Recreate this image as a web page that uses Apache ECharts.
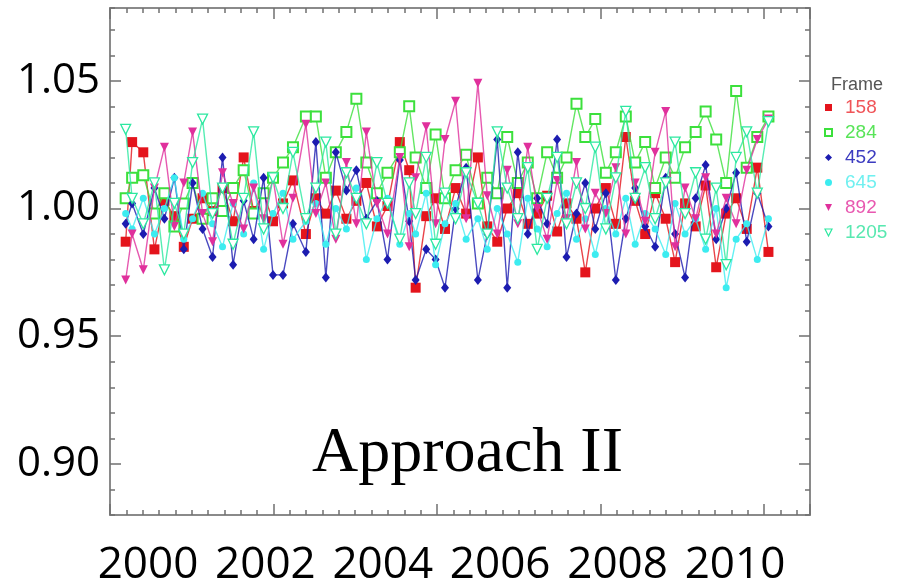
<!DOCTYPE html>
<html><head><meta charset="utf-8">
<script src="https://cdn.jsdelivr.net/npm/echarts@6/dist/echarts.min.js"></script>
<style>html,body{margin:0;padding:0;background:#fff}#c{width:902px;height:580px}</style>
</head><body><div id="c"></div><script>
// Observation dates (decimal year)
const dates = [1999.62,1999.73,1999.92,2000.11,2000.28,2000.45,2000.61,2000.76,2000.93,2001.10,
  2001.27,2001.45,2001.63,2001.80,2001.97,2002.13,2002.30,2002.47,2002.69,2002.86,
  2003.03,2003.20,2003.38,2003.55,2003.72,2003.90,2004.08,2004.29,2004.45,2004.56,
  2004.74,2004.90,2005.06,2005.24,2005.42,2005.62,2005.78,2005.95,2006.12,2006.30,
  2006.47,2006.63,2006.80,2006.97,2007.13,2007.30,2007.45,2007.62,2007.80,2007.97,
  2008.14,2008.30,2008.47,2008.64,2008.82,2008.98,2009.15,2009.33,2009.50,2009.68,
  2009.85,2010.02,2010.20,2010.38,2010.57];

const frame158 = [0.987,1.026,1.022,0.984,1.003,0.997,0.985,0.996,1.004,0.999,
  1.008,0.995,1.020,0.999,1.006,0.995,1.002,1.011,0.990,1.004,
  0.998,1.007,0.996,1.003,1.010,0.993,1.001,1.026,1.015,0.969,
  0.997,1.004,0.992,1.008,0.998,1.020,0.993,0.987,1.000,1.006,
  0.994,0.998,1.005,0.991,1.002,0.996,0.975,1.000,1.008,0.994,
  1.028,1.003,0.990,1.006,0.996,0.979,1.002,0.993,1.009,0.977,
  0.998,1.004,0.992,1.016,0.983];

const frame284 = [1.004,1.012,1.013,0.998,1.006,0.993,1.002,1.010,0.996,1.004,
  0.999,1.008,1.015,0.998,1.006,1.012,1.018,1.024,1.036,1.036,
  1.012,1.022,1.030,1.043,1.018,1.006,1.014,1.022,1.040,1.020,
  1.008,1.029,1.004,1.015,1.021,1.002,1.012,1.006,1.028,1.010,
  1.018,1.004,1.022,1.012,1.020,1.041,1.028,1.035,1.014,1.022,
  1.036,1.018,1.026,1.008,1.020,1.012,1.024,1.030,1.038,1.027,
  1.010,1.046,1.016,1.028,1.036];

const frame452 = [0.994,1.002,0.990,1.008,0.996,1.012,0.984,1.010,0.992,0.981,
  1.020,0.978,1.003,0.988,1.012,0.974,0.974,0.994,0.983,1.026,
  0.973,1.022,1.007,1.015,0.996,1.003,0.980,1.019,0.995,0.972,
  0.984,0.980,0.969,1.000,1.016,0.972,0.990,1.027,0.969,1.022,
  0.990,1.004,0.994,1.027,0.981,0.998,1.010,0.992,1.006,0.972,
  0.996,1.008,0.993,0.985,1.012,0.990,0.973,1.004,1.017,0.988,
  1.000,1.014,0.987,1.006,0.993];

const frame645 = [0.998,0.992,1.004,0.990,1.000,1.012,0.988,0.996,1.006,0.994,
  0.985,1.002,0.990,1.010,0.984,0.998,1.006,0.988,0.995,1.002,
  0.986,1.000,0.992,1.008,0.980,0.996,1.004,0.986,0.998,0.990,
  1.006,0.978,0.994,1.002,0.988,0.996,0.984,1.000,0.990,0.979,
  1.004,0.992,0.985,0.998,1.006,0.988,0.996,0.982,1.000,0.990,
  1.004,0.986,0.998,0.992,0.982,1.002,0.990,0.996,0.984,1.000,
  0.969,0.988,0.994,0.980,0.996];

const frame892 = [0.972,0.990,0.976,1.008,1.024,0.993,1.010,1.030,0.998,0.987,
  1.014,1.002,0.992,1.008,0.996,1.012,0.986,1.004,1.033,0.998,
  1.010,0.988,1.018,0.994,1.030,1.002,0.990,1.020,0.985,1.012,
  1.032,0.994,1.027,1.042,0.996,1.049,1.005,0.990,1.015,0.994,
  1.024,1.000,0.988,1.011,0.996,1.018,0.992,1.006,0.998,1.016,
  0.990,1.010,0.995,1.022,1.038,0.985,1.008,0.996,1.012,0.990,
  1.004,0.994,1.015,1.027,1.035];

const frame1205 = [1.031,1.004,0.994,1.010,0.976,1.002,0.990,1.018,1.035,0.998,
  1.008,0.986,1.004,1.030,0.992,1.012,1.000,1.022,0.996,1.008,
  1.026,0.990,1.014,1.004,0.994,1.018,1.002,0.988,1.010,0.998,
  1.020,0.986,1.006,0.996,1.014,1.002,0.990,1.030,1.008,0.996,
  1.016,0.984,1.004,1.020,0.994,1.010,1.000,1.024,0.992,1.012,
  1.038,1.004,1.016,0.996,1.010,1.026,0.998,1.014,0.988,1.008,
  0.978,1.020,1.030,1.006,1.034];

const frameNames = ['158','284','452','645','892','1205'];
const yearLabels = [2000,2002,2004,2006,2008,2010];
const yLabels = [0.90,0.95,1.00,1.05];

const valuesByFrame = [frame158, frame284, frame452, frame645, frame892, frame1205];
const colors = ['#e4141c','#3ce03c','#1c1cb0','#3cecf0','#e0309c','#2ce8a0'];
const textColors = ['#f05458','#58e458','#3c3cc0','#70f0f0','#e858b0','#58e8b0'];
const downTri = 'path://M0,0L10,0L5,10Z';
const symbolSpecs = [
  {symbol:'rect', size:10, fill:null},
  {symbol:'emptyRect', size:10, fill:null},
  {symbol:'diamond', size:[8,10], fill:null},
  {symbol:'circle', size:7, fill:null},
  {symbol:downTri, size:[9,9], fill:null},
  {symbol:downTri, size:[10,10], fill:'#fff'}
];

const XMIN = 1999.353, XMAX = 2011.278, YMIN = 0.88, YMAX = 1.0785;
const axisLineStyle = {color:'#8a8a8a', width:2};
const tickStyle = {color:'#707070', width:1.5};

const series = frameNames.map((name, i) => {
  const sp = symbolSpecs[i];
  const itemStyle = sp.fill ? {color: sp.fill, borderColor: colors[i], borderWidth: 1.3} : {color: colors[i]};
  return {
    name, type:'line', xAxisIndex:0, yAxisIndex:0,
    data: dates.map((d, k) => [d, valuesByFrame[i][k]]),
    symbol: sp.symbol, symbolSize: sp.size,
    itemStyle,
    lineStyle: {color: colors[i], width: 1.4, opacity: 0.8},
    emphasis: {disabled: true},
    z: 2 + i
  };
});

const legendData = frameNames.map((name, i) => {
  const sp = symbolSpecs[i];
  const o = {name, icon: sp.symbol, textStyle: {color: textColors[i]}};
  if (sp.fill) o.itemStyle = {color: sp.fill, borderColor: colors[i], borderWidth: 1.2};
  else o.itemStyle = {color: colors[i]};
  return o;
});

const chart = echarts.init(document.getElementById('c'), null, {renderer:'canvas'});
chart.setOption({
  animation: false,
  backgroundColor: '#fff',
  grid: {left:110, right:92, top:8, bottom:65, containLabel:false, outerBoundsMode:'none'},
  title: {text:'Frame', left:826, top:71, textStyle:{fontFamily:'Liberation Sans', fontSize:18, fontWeight:'normal', color:'#555'}},
  legend: {
    orient:'vertical', left:819, top:93, itemWidth:7, itemHeight:7, itemGap:6,
    textStyle:{fontFamily:'Liberation Sans', fontSize:19, padding:[0,0,0,8]},
    data: legendData, selectedMode:false
  },
  xAxis: [
    {type:'value', position:'bottom', min:XMIN, max:XMAX, interval:2.7853,
     axisLine:{show:true, onZero:false, lineStyle:axisLineStyle},
     axisTick:{show:true, inside:true, length:11, lineStyle:tickStyle},
     axisLabel:{show:true, customValues:yearLabels, margin:28, fontFamily:'Open Sans', fontSize:44, color:'#000',
       formatter: v => String(Math.round(v))},
     splitLine:{show:false}},
    {type:'value', position:'bottom', min:XMIN, max:XMAX, interval:0.27853,
     axisLine:{show:false, onZero:false}, axisTick:{show:true, inside:true, length:5, lineStyle:tickStyle},
     axisLabel:{show:false}, splitLine:{show:false}},
    {type:'value', position:'top', min:XMIN, max:XMAX, interval:2.7853,
     axisLine:{show:true, onZero:false, lineStyle:axisLineStyle},
     axisTick:{show:true, inside:true, length:11, lineStyle:tickStyle},
     axisLabel:{show:false}, splitLine:{show:false}},
    {type:'value', position:'top', min:XMIN, max:XMAX, interval:0.27853,
     axisLine:{show:false, onZero:false}, axisTick:{show:true, inside:true, length:5, lineStyle:tickStyle},
     axisLabel:{show:false}, splitLine:{show:false}}
  ],
  yAxis: [
    {type:'value', position:'left', min:YMIN, max:YMAX,
     axisLine:{show:true, onZero:false, lineStyle:axisLineStyle},
     axisTick:{show:true, inside:true, length:11, customValues:yLabels, lineStyle:tickStyle},
     axisLabel:{show:true, customValues:yLabels, margin:10, fontFamily:'Open Sans', fontSize:42, color:'#000',
       formatter: v => v.toFixed(2)},
     splitLine:{show:false}},
    {type:'value', position:'left', min:YMIN, max:YMAX, interval:0.01,
     axisLine:{show:false, onZero:false}, axisTick:{show:true, inside:true, length:5, lineStyle:tickStyle},
     axisLabel:{show:false}, splitLine:{show:false}},
    {type:'value', position:'right', min:YMIN, max:YMAX,
     axisLine:{show:true, onZero:false, lineStyle:axisLineStyle},
     axisTick:{show:true, inside:true, length:11, customValues:yLabels, lineStyle:tickStyle},
     axisLabel:{show:false}, splitLine:{show:false}},
    {type:'value', position:'right', min:YMIN, max:YMAX, interval:0.01,
     axisLine:{show:false, onZero:false}, axisTick:{show:true, inside:true, length:5, lineStyle:tickStyle},
     axisLabel:{show:false}, splitLine:{show:false}}
  ],
  graphic: [
    {type:'text', left:312, top:422, z:10,
     style:{text:'Approach II', fontFamily:'Liberation Serif', fontSize:64, fill:'#000'}}
  ],
  series
});
</script></body></html>
